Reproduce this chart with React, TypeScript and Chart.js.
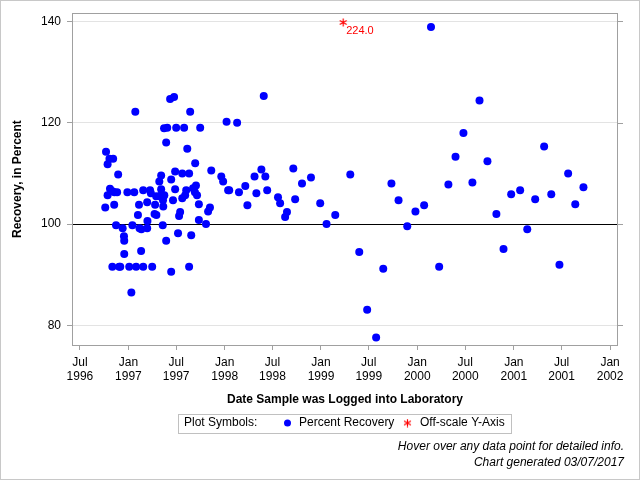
import React, { useEffect, useRef } from 'react';
import { Chart, registerables } from 'chart.js';

Chart.register(...registerables);

const sampleDates: string[] = [
  '1996-10-05', '1996-10-14', '1996-10-08', '1996-10-14', '1996-10-21', '1996-11-04', '1996-10-23', '1996-11-01',
  '1996-11-08', '1996-11-09', '1996-11-19', '1996-11-23', '1996-11-15', '1996-12-10', '1996-12-15', '1996-12-16',
  '1996-12-16', '1996-11-01', '1996-11-27', '1996-12-01', '1997-01-04', '1997-01-12', '1996-12-28', '1997-01-23',
  '1997-01-27', '1997-01-16', '1997-01-30', '1997-02-12', '1997-02-19', '1997-03-13', '1997-02-26', '1997-04-01',
  '1997-02-18', '1997-02-10', '1997-02-06', '1997-02-26', '1997-03-24', '1997-03-27', '1997-03-13', '1997-03-14',
  '1997-04-12', '1997-04-10', '1997-04-17', '1997-04-16', '1997-04-29', '1997-05-07', '1997-05-14', '1997-05-12',
  '1997-05-13', '1997-05-05', '1997-04-28', '1997-05-05', '1997-05-16', '1997-05-24', '1997-05-11', '1997-05-24',
  '1997-06-08', '1997-06-23', '1997-05-28', '1997-07-01', '1997-07-31', '1997-09-30', '1997-08-23', '1997-08-12',
  '1997-09-11', '1997-11-11', '1997-06-27', '1997-07-24', '1997-08-19', '1997-06-12', '1997-12-19', '1997-12-26',
  '1998-01-14', '1997-05-17', '1997-06-27', '1997-08-08', '1997-08-04', '1997-07-24', '1997-09-03', '1997-09-14',
  '1997-09-10', '1997-09-18', '1997-06-19', '1997-09-25', '1997-11-06', '1997-10-30', '1997-07-16', '1997-07-12',
  '1997-09-25', '1997-10-22', '1997-07-08', '1997-08-27', '1997-08-19', '1997-06-12', '1998-05-29', '1998-01-08',
  '1998-02-17', '1998-05-20', '1998-04-24', '1998-06-04', '1998-09-18', '1998-01-18', '1998-02-24', '1998-03-20',
  '1998-05-01', '1998-06-11', '1998-03-28', '1998-07-22', '1998-07-30', '1998-08-25', '1998-08-18', '1998-09-25',
  '1998-10-21', '1998-11-24', '1998-12-29', '1999-01-22', '1999-02-24', '1999-04-22', '1999-05-26', '1999-06-25',
  '1999-07-29', '1999-08-25', '1999-09-25', '1999-10-22', '1999-11-24', '1999-12-25', '2000-01-27', '2000-02-22',
  '2000-03-24', '2000-04-28', '2000-05-25', '2000-06-24', '2000-07-28', '2000-08-24', '2000-09-23', '2000-10-27',
  '2000-11-23', '2000-12-22', '2001-01-25', '2001-02-21', '2001-03-23', '2001-04-26', '2001-05-23', '2001-06-23',
  '2001-07-26', '2001-08-22', '2001-09-22',
];

const recovery: number[] = [
  103.3, 105.7, 114.3, 111.8, 112.9, 112.9, 107.0, 106.5,
  103.8, 106.3, 106.3, 109.8, 99.8, 99.2, 97.6, 96.7,
  94.1, 91.6, 91.6, 91.6, 91.6, 86.5, 106.3, 106.3,
  122.2, 99.8, 91.6, 99.2, 99.0, 99.2, 91.6, 91.6,
  94.7, 103.8, 101.8, 106.7, 106.7, 106.1, 104.3, 100.6,
  103.8, 102.0, 101.8, 105.5, 105.5, 105.8, 105.5, 104.7,
  103.5, 106.9, 108.4, 109.6, 118.9, 116.1, 99.8, 96.7,
  124.7, 125.1, 119.0, 119.0, 119.0, 119.0, 122.2, 114.9,
  112.0, 110.6, 110.4, 110.0, 110.0, 108.8, 109.4, 108.4,
  106.7, 105.7, 106.9, 106.7, 105.7, 105.1, 107.1, 107.6,
  106.3, 105.7, 104.7, 103.9, 103.3, 102.5, 102.4, 101.6,
  100.8, 100.0, 98.2, 97.8, 91.6, 90.6, 125.3, 120.2,
  120.0, 110.8, 109.4, 109.4, 111.0, 106.7, 106.3, 107.5,
  106.1, 106.7, 103.7, 105.3, 104.1, 102.4, 101.4, 104.9,
  108.0, 109.2, 104.1, 100.0, 101.8, 109.8, 94.5, 83.1,
  77.6, 91.2, 108.0, 104.7, 99.6, 102.5, 103.7, 138.9,
  91.6, 107.8, 113.3, 118.0, 108.2, 124.4, 112.4, 102.0,
  95.1, 105.9, 106.7, 99.0, 104.9, 115.3, 105.9, 92.0,
  110.0, 103.9, 107.3,
];

const offScaleDates: string[] = ['1999-03-26'];
const offScaleValues: number[] = [224.0];
const offScalePlotAt = 139.8;

const yTickValues: number[] = [80, 100, 120, 140];
const xTickDates: string[] = [
  '1996-07-01', '1997-01-01', '1997-07-01', '1998-01-01', '1998-07-01', '1999-01-01',
  '1999-07-01', '2000-01-01', '2000-07-01', '2001-01-01', '2001-07-01', '2002-01-01',
];
const monthNames: string[] = ['Jan', 'Feb', 'Mar', 'Apr', 'May', 'Jun', 'Jul', 'Aug', 'Sep', 'Oct', 'Nov', 'Dec'];

const xMinDate = '1996-06-01';
const xMaxDate = '2002-01-31';
const yMin = 76.14;
const yMax = 141.63;

const FONT = '"Liberation Sans", Arial, sans-serif';

function toMs(s: string): number {
  const [y, m, d] = s.split('-').map(Number);
  return Date.UTC(y, m - 1, d);
}

function makeAsterisk(color: string, size: number): HTMLCanvasElement {
  const c = document.createElement('canvas');
  c.width = size;
  c.height = size;
  const g = c.getContext('2d')!;
  g.strokeStyle = color;
  g.lineWidth = 1.2;
  const cx = size / 2;
  const cy = size / 2;
  const r = size / 2 - 0.5;
  for (let k = 0; k < 3; k++) {
    const a = Math.PI / 2 + (k * Math.PI) / 3;
    g.beginPath();
    g.moveTo(cx + r * Math.cos(a), cy + r * Math.sin(a));
    g.lineTo(cx - r * Math.cos(a), cy - r * Math.sin(a));
    g.stroke();
  }
  return c;
}

export default function App() {
  const ref = useRef<HTMLCanvasElement>(null);

  useEffect(() => {
    const canvas = ref.current;
    if (!canvas) return;
    const star = makeAsterisk('#ff0000', 9);

    const blueData = sampleDates.map((d, i) => ({ x: toMs(d), y: recovery[i] }));
    const offData = offScaleDates.map((d) => ({ x: toMs(d), y: offScalePlotAt }));

    const decor = {
      id: 'decor',
      beforeDraw(chart: any) {
        const ctx = chart.ctx;
        ctx.save();
        ctx.fillStyle = '#ffffff';
        ctx.fillRect(0, 0, chart.width, chart.height);
        ctx.restore();
      },
      afterDraw(chart: any) {
        const ctx = chart.ctx;
        const a = chart.chartArea;
        const ys = chart.scales.y;
        ctx.save();
        // plot frame
        ctx.strokeStyle = '#a0a0a0';
        ctx.lineWidth = 1;
        ctx.strokeRect(Math.round(a.left) + 0.5, Math.round(a.top) + 0.5, Math.round(a.right - a.left) - 1, Math.round(a.bottom - a.top));
        // mirrored ticks on right
        yTickValues.forEach((v) => {
          const py = Math.round(ys.getPixelForValue(v)) + 0.5;
          ctx.beginPath();
          ctx.moveTo(a.right, py);
          ctx.lineTo(a.right + 5, py);
          ctx.stroke();
        });
        // axis titles
        ctx.fillStyle = '#000';
        ctx.font = `bold 12px ${FONT}`;
        ctx.textAlign = 'center';
        ctx.textBaseline = 'middle';
        ctx.fillText('Date Sample was Logged into Laboratory', (a.left + a.right) / 2, 400);
        ctx.save();
        ctx.translate(18, (a.top + a.bottom) / 2);
        ctx.rotate(-Math.PI / 2);
        ctx.fillText('Recovery, in Percent', 0, 0);
        ctx.restore();
        // off-scale labels
        const meta = chart.getDatasetMeta(1);
        ctx.fillStyle = '#ff0000';
        ctx.font = `11px ${FONT}`;
        ctx.textAlign = 'left';
        meta.data.forEach((pt: any, i: number) => {
          ctx.fillText(offScaleValues[i].toFixed(1), pt.x + 3, pt.y + 8);
        });
        // legend box
        ctx.strokeStyle = '#c0c0c0';
        ctx.strokeRect(178.5, 414.5, 333, 19);
        ctx.fillStyle = '#000';
        ctx.font = `12px ${FONT}`;
        ctx.textAlign = 'left';
        ctx.fillText('Plot Symbols:', 184, 423);
        ctx.fillStyle = '#0000ff';
        ctx.beginPath();
        ctx.arc(287.5, 423, 3.5, 0, Math.PI * 2);
        ctx.fill();
        ctx.fillStyle = '#000';
        ctx.fillText('Percent Recovery', 299, 423);
        ctx.drawImage(star, 407.5 - 4.5, 423 - 4.5);
        ctx.fillText('Off-scale Y-Axis', 420, 423);
        // footer
        ctx.font = `italic 12px ${FONT}`;
        ctx.textAlign = 'right';
        ctx.fillText('Hover over any data point for detailed info.', 624, 446.5);
        ctx.fillText('Chart generated 03/07/2017', 624, 462.5);
        // outer border
        ctx.strokeStyle = '#c8c8c8';
        ctx.strokeRect(0.5, 0.5, chart.width - 1, chart.height - 1);
        ctx.restore();
      },
    };

    const chart = new Chart(canvas, {
      type: 'scatter',
      data: {
        datasets: [
          {
            label: 'Percent Recovery',
            data: blueData,
            backgroundColor: '#0000ff',
            borderColor: '#0000ff',
            borderWidth: 0,
            pointRadius: 4,
            pointStyle: 'circle',
          },
          {
            label: 'Off-scale Y-Axis',
            data: offData,
            backgroundColor: '#ff0000',
            borderColor: '#ff0000',
            pointRadius: 4.5,
            pointStyle: star as any,
          },
        ],
      },
      options: {
        responsive: false,
        animation: false,
        events: [],
        layout: { padding: { left: 0, top: 11, right: 22, bottom: 65 } },
        plugins: {
          legend: { display: false },
          tooltip: { enabled: false },
        },
        scales: {
          x: {
            type: 'linear',
            min: toMs(xMinDate),
            max: toMs(xMaxDate),
            afterFit: (s: any) => {
              s.height = 70;
            },
            afterBuildTicks: (s: any) => {
              s.ticks = xTickDates.map((d) => ({ value: toMs(d) }));
            },
            ticks: {
              autoSkip: false,
              maxRotation: 0,
              padding: 6,
              color: '#000',
              font: { family: FONT, size: 12, lineHeight: 14 / 12 },
              callback: (v: any) => {
                const dt = new Date(Number(v));
                return [monthNames[dt.getUTCMonth()], String(dt.getUTCFullYear())];
              },
            },
            grid: { drawOnChartArea: false, drawTicks: true, tickLength: 5, tickColor: '#a0a0a0' },
            border: { display: false },
          },
          y: {
            min: yMin,
            max: yMax,
            afterFit: (s: any) => {
              s.width = 72;
            },
            afterBuildTicks: (s: any) => {
              s.ticks = yTickValues.map((v) => ({ value: v }));
            },
            ticks: { padding: 6, color: '#000', font: { family: FONT, size: 12 } },
            grid: {
              color: (c: any) => (c.tick && c.tick.value === 100 ? '#000000' : '#e3e3e3'),
              tickLength: 5,
              tickColor: '#a0a0a0',
            },
            border: { display: false },
          },
        },
      },
      plugins: [decor],
    });
    return () => chart.destroy();
  }, []);

  return (
    <div style={{ position: 'fixed', left: 0, top: 0, width: 640, height: 480 }}>
      <canvas ref={ref} width={640} height={480} />
    </div>
  );
}
